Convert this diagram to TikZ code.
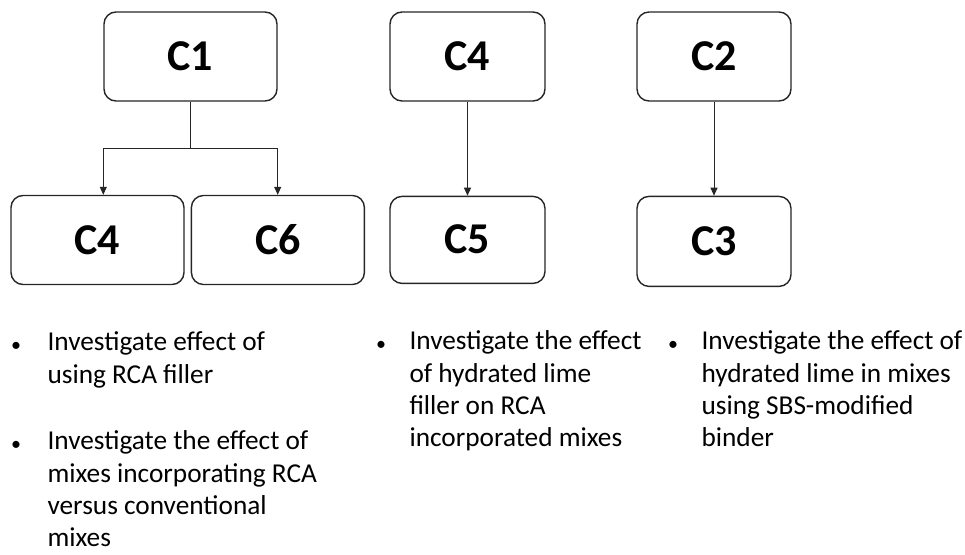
\documentclass[tikz,border=0pt]{standalone}
\usepackage{fontspec}
\setmainfont{Carlito}[Numbers=Lining]
\usetikzlibrary{arrows.meta, positioning}
\definecolor{boxStroke}{HTML}{262626}

\begin{document}
\begin{tikzpicture}[
    % Global Styles
    x=1pt, y=-1pt,
    node distance=94pt,
    line width=1pt,
    % Node Styles
    stage/.style={
        rectangle,
        rounded corners=12pt,
        draw=boxStroke,
        line width=1.4pt,
        fill=white,
        minimum width=173pt,
        minimum height=89pt,
        inner sep=0pt,
        text height=28pt,
        text depth=0pt,
        font=\fontsize{44}{50}\selectfont\bfseries
    },
    % first line top = baseline - 0.7*32.3pt (strut)
    note/.style={
        anchor=north west,
        yshift=22.6pt,
        align=left,
        inner sep=0pt,
        execute at begin node=\strut,
        font=\fontsize{27.3}{32.3}\selectfont
    },
    dot/.style={
        anchor=base,
        yshift=2.5pt,
        inner sep=0pt,
        font=\fontsize{20}{24}\selectfont
    },
    % Arrow Style
    arrow/.style={
        -{Triangle[length=8pt, width=7pt]},
        draw=boxStroke,
        line width=1pt
    }
]

    \useasboundingbox (0,0) rectangle (965,554);

    % --- Nodes ---

    % 1. C1 branch
    \node[stage] (c1) at (190.5,56.5) {C1};
    \node[stage] (c4a) at (97.5,240) {C4};
    \node[stage, right=6pt of c4a] (c6) {C6};

    % 2. C4 branch
    \node[stage, minimum width=155pt] (c4b) at (467.5,56.5) {C4};
    \node[stage, minimum width=155pt, minimum height=87pt, below=of c4b] (c5) {C5};

    % 3. C2 branch
    \node[stage, minimum width=154pt] (c2) at (714,56.5) {C2};
    \node[stage, minimum width=154pt, minimum height=90pt, below=of c2] (c3) {C3};

    % 4. Notes (positions are first-line baselines)
    \node[dot] (b1) at (16,354) {\textbullet};
    \node[note] (n1) at (47,354) {Investigate effect of\\using RCA filler};
    \node[dot] (b2) at (16,453) {\textbullet};
    \node[note] (n2) at (47,453) {Investigate the effect of\\mixes incorporating RCA\\versus conventional\\mixes};
    \node[dot] (b3) at (381,353) {\textbullet};
    \node[note] (n3) at (409,353) {Investigate the effect\\of hydrated lime\\filler on RCA\\incorporated mixes};
    \node[dot] (b4) at (673,353) {\textbullet};
    \node[note] (n4) at (701,353) {Investigate the effect of\\hydrated lime in mixes\\using SBS-modified\\binder};

    % --- Edges ---

    % Split connections (C1 -> C4, C6)
    \draw[arrow] (c1.south) -- ++(0,47) -| (c4a.north -| c1.west);
    \draw[arrow] (c1.south) -- ++(0,47) -| (c6.north -| c1.east);

    % Vertical connections
    \draw[arrow] (c4b) -- (c5);
    \draw[arrow] (c2) -- (c3);

\end{tikzpicture}
\end{document}
